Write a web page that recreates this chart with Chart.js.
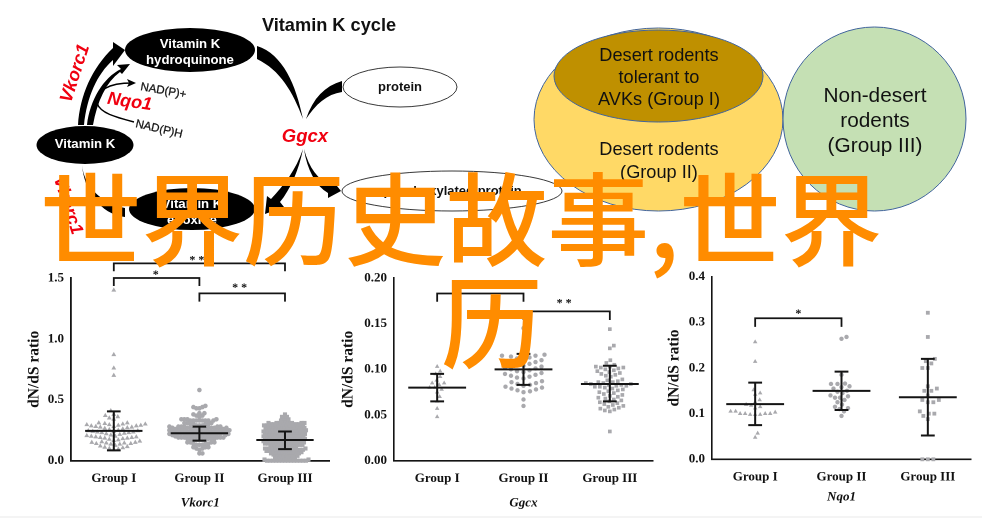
<!DOCTYPE html>
<html><head><meta charset="utf-8">
<script src="https://cdn.jsdelivr.net/npm/chart.js@4"></script>
<style>
html,body{margin:0;padding:0;background:#fff;width:982px;height:518px;overflow:hidden}
canvas.p{position:absolute;filter:blur(.45px)}
svg{position:absolute;left:0;top:0;filter:blur(.4px)}
.o{position:absolute;color:#ff8c00;font-family:"Noto Sans CJK SC";font-weight:500;font-size:101.5px;line-height:100px;white-space:nowrap}
#strip{position:absolute;left:0;top:516px;width:982px;height:2px;background:#f4f4f4}
</style></head><body>
<svg width="982" height="518" viewBox="0 0 982 518" font-family="Liberation Sans">
<text x="329" y="31" font-size="18.2" font-weight="700" text-anchor="middle" fill="#111">Vitamin K cycle</text>
<g fill="#000">
<path d="M78 125 C80 95 92 68 113 48 L113 42 L125 50 L113 66 L113 60 C97 74 87 97 84 125Z"/>
<path d="M87 125 C90 100 103 78 121 69 L117 65 L130 64 L122 74 L120 72 C106 82 97 102 93 125Z"/>
<path d="M257 46 C283 54 296 85 303 119 C293 92 280 70 257 59Z"/>
<path d="M342 81 L342 92 C327 94 315 105 306 119 C313 98 325 86 342 81Z"/>
<path d="M303 149 C299 170 290 190 280 202 L284 207 L265 214 L267 196 L271 199 C284 185 296 170 303 149Z"/>
<path d="M304 149 C309 168 318 180 331 185 L333 181 L341 191 L328 198 L328 193 C316 186 307 170 304 149Z"/>
<path d="M82 165 C84 185 100 203 125 208 L125 217 C100 214 84 190 82 165Z"/>
</g>
<path d="M97 105 C97 90 107 83 133 83" fill="none" stroke="#000" stroke-width="1.3"/>
<path d="M136 83 L127 79 L129 83 L127 87Z" fill="#000"/>
<path d="M97 103 C100 113 115 117 134 122" fill="none" stroke="#000" stroke-width="1.3"/>
<ellipse cx="190" cy="50" rx="65" ry="22" fill="#000"/>
<ellipse cx="85" cy="145" rx="48.5" ry="19" fill="#000"/>
<ellipse cx="192" cy="209" rx="63" ry="21" fill="#000"/>
<ellipse cx="400" cy="87" rx="57" ry="20" fill="#fff" stroke="#222" stroke-width=".9"/>
<ellipse cx="452" cy="191" rx="110" ry="20" fill="#fff" stroke="#222" stroke-width=".9"/>
<g font-weight="700" font-size="13.2" text-anchor="middle" fill="#fff">
<text x="190" y="48">Vitamin K</text><text x="190" y="64">hydroquinone</text>
<text x="85" y="148">Vitamin K</text>
<text x="192" y="208">Vitamin K</text><text x="192" y="224">epoxide</text>
</g>
<g font-weight="700" font-size="13" text-anchor="middle" fill="#111">
<text x="400" y="91">protein</text>
<text x="452" y="195">γ-carboxylated protein</text>
</g>
<g font-size="11.5" font-weight="400" stroke="#111" stroke-width=".25" fill="#111">
<text transform="translate(140 90) rotate(10)">NAD(P)+</text>
<text transform="translate(135 127) rotate(13)">NAD(P)H</text>
</g>
<g font-weight="700" font-style="italic" fill="#f00010" text-anchor="middle">
<text transform="translate(80 75) rotate(-72)" font-size="18">Vkorc1</text>
<text transform="translate(129 107) rotate(8)" font-size="18">Nqo1</text>
<text x="305" y="142" font-size="18.5">Ggcx</text>
<text transform="translate(63 207) rotate(72)" font-size="18">Vkorc1</text>
</g>
<ellipse cx="658.5" cy="119.5" rx="124.5" ry="91.5" fill="#ffd966" stroke="#41649c" stroke-width="1"/>
<ellipse cx="658.5" cy="76" rx="104.5" ry="46" fill="#bf9000" stroke="#41649c" stroke-width="1"/>
<ellipse cx="874.5" cy="119" rx="91.5" ry="92" fill="#c5e0b4" stroke="#41649c" stroke-width="1"/>
<g font-size="18.2" text-anchor="middle" fill="#111">
<text x="659" y="60.5">Desert rodents</text><text x="659" y="83">tolerant to</text><text x="659" y="105">AVKs (Group I)</text>
<text x="659" y="155">Desert rodents</text><text x="659" y="177.5">(Group II)</text>
</g>
<g font-size="20.8" text-anchor="middle" fill="#111">
<text x="875" y="102">Non-desert</text><text x="875" y="127">rodents</text><text x="875" y="152">(Group III)</text>
</g>
</svg>
<canvas class="p" id="c1" style="left:0;top:240px"></canvas>
<canvas class="p" id="c2" style="left:335px;top:240px"></canvas>
<canvas class="p" id="c3" style="left:658px;top:240px"></canvas>
<div id="strip"></div>
<div class="o" style="left:40px;top:164px">世界历史故事,世界</div>
<div class="o" style="left:441px;top:267px">历</div>
<script>
const groupLabels = ["Group I","Group II","Group III"];

const vkorc1I = [1.40,0.87,0.76,0.70,0.41,0.38,0.37,0.36,0.35,0.34,
0.09,0.095,0.10,0.105,0.11,0.115,0.12,0.125,
0.135,0.135,0.14,0.14,0.145,0.145,0.15,0.15,0.155,0.16,0.165,0.17,0.175,0.18,
0.185,0.185,0.19,0.19,0.195,0.195,0.20,0.20,0.205,0.21,0.215,0.22,0.225,
0.23,0.23,0.235,0.235,0.24,0.24,0.245,0.245,0.25,0.255,0.26,0.265,0.27,
0.275,0.275,0.28,0.28,0.285,0.285,0.29,0.29,0.295,0.295,0.30,0.30,0.305,0.31,0.31];
const vkorc1II = [0.58,0.45,0.44,0.44,0.43,0.43,0.39,0.39,0.38,0.37,0.37,0.36,
0.34,0.34,0.34,0.34,0.33,0.33,0.33,0.33,0.33,0.33,0.33,0.33,
0.31,0.31,0.31,0.30,0.30,0.30,0.30,0.29,0.29,0.29,
0.28,0.28,0.28,0.28,0.28,0.28,0.27,0.27,0.27,0.27,0.27,0.27,0.27,
0.26,0.26,0.26,0.26,0.26,0.26,0.26,0.25,0.25,0.25,0.25,0.25,0.25,0.25,
0.24,0.24,0.24,0.24,0.24,0.24,0.24,0.23,0.23,0.23,0.23,0.23,0.23,0.23,
0.22,0.22,0.22,0.22,0.22,0.22,0.22,0.21,0.21,0.21,0.21,0.21,0.21,0.21,
0.20,0.20,0.20,0.20,0.20,0.20,0.19,0.19,0.19,0.19,0.19,0.19,
0.18,0.18,0.18,0.18,0.18,0.17,0.17,0.17,0.17,0.17,
0.15,0.15,0.15,0.15,0.14,0.14,0.14,0.13,0.13,0.13,
0.11,0.11,0.11,0.10,0.10,0.09,0.06,0.06];
const vkorc1III = [0.38,0.36,0.36,0.35,0.34,0.33,0.33,0.32,
0.31,0.31,0.31,0.31,0.31,0.31,0.31,0.30,0.30,0.30,0.30,0.30,0.30,
0.29,0.29,0.29,0.29,0.29,0.29,0.29,0.28,0.28,0.28,0.28,0.28,0.28,0.28,
0.27,0.27,0.27,0.27,0.27,0.27,0.26,0.26,0.26,0.26,0.26,0.26,0.26,
0.25,0.25,0.25,0.25,0.25,0.25,0.25,0.24,0.24,0.24,0.24,0.24,0.24,0.24,
0.23,0.23,0.23,0.23,0.23,0.23,0.23,0.22,0.22,0.22,0.22,0.22,0.22,0.22,
0.21,0.21,0.21,0.21,0.21,0.21,0.21,0.20,0.20,0.20,0.20,0.20,0.20,0.20,
0.19,0.19,0.19,0.19,0.19,0.19,0.19,0.18,0.18,0.18,0.18,0.18,0.18,0.18,
0.17,0.17,0.17,0.17,0.17,0.17,0.17,0.16,0.16,0.16,0.16,0.16,0.16,0.16,
0.15,0.15,0.15,0.15,0.15,0.15,0.15,0.14,0.14,0.14,0.14,0.14,0.14,0.14,
0.13,0.13,0.13,0.13,0.13,0.13,0.12,0.12,0.12,0.12,0.12,0.12,
0.10,0.10,0.10,0.10,0.10,0.10,0.10,0.09,0.09,0.09,0.09,0.09,0.09,0.09,
0.08,0.08,0.08,0.08,0.08,0.08,0.07,0.07,0.07,0.07,0.07,0.07,
0.06,0.06,0.06,0.06,0.06,0.05,0.05,0.05,0.05,0.05,
0.04,0.04,0.04,0.04,0.03,0.03,0.03,0.03,0.02,0.02,0.02,0.02,0.01,0.01,
0,0,0,0,0,0,0,0,0,0,0,0,0,0];
const vkorc1Mean = [0.245,0.225,0.17];
const vkorc1Low = [0.085,0.165,0.095];
const vkorc1High = [0.405,0.28,0.24];

const ggcxI = [0.103,0.098,0.095,0.092,0.088,0.085,0.085,0.083,0.080,0.080,0.078,0.075,0.070,0.065,0.057,0.048];
const ggcxII = [0.145,0.125,0.118,
0.104,0.105,0.106,0.107,0.108,0.109,0.110,0.111,0.112,0.113,0.114,0.115,0.115,0.116,
0.090,0.091,0.092,0.093,0.094,0.095,0.096,0.097,0.098,0.099,0.100,0.101,0.102,0.103,
0.075,0.076,0.077,0.078,0.079,0.080,0.081,0.082,0.083,0.084,0.085,0.086,0.087,
0.067,0.060];
const ggcxIII = [0.144,0.126,0.123,0.110,0.107,0.105,
0.092,0.093,0.094,0.095,0.096,0.097,0.098,0.099,0.100,0.101,0.102,0.102,0.103,0.103,
0.078,0.079,0.080,0.081,0.081,0.082,0.082,0.083,0.083,0.084,0.084,0.085,0.085,0.086,0.086,0.087,0.088,0.089,
0.066,0.067,0.068,0.069,0.070,0.071,0.072,0.073,0.074,0.075,0.076,0.077,
0.054,0.055,0.056,0.057,0.058,0.059,0.060,0.061,0.062,0.063,0.064,0.065,
0.032];
const ggcxMean = [0.080,0.100,0.084];
const ggcxLow = [0.065,0.083,0.065];
const ggcxHigh = [0.095,0.117,0.104];

const nqo1I = [0.257,0.214,0.152,0.145,0.142,0.130,0.125,0.120,0.118,0.115,0.112,0.105,0.105,0.103,0.100,0.100,0.100,0.098,0.098,0.098,0.100,0.057,0.048];
const nqo1II = [0.268,0.264,0.185,0.166,0.165,0.165,0.160,0.158,0.155,0.150,0.148,0.145,0.140,0.138,0.135,0.135,0.130,0.125,0.120,0.115,0.112,0.110,0.105,0.095];
const nqo1III = [0.321,0.268,0.220,0.215,0.210,0.200,0.200,0.160,0.155,0.150,0.150,0.140,0.130,0.130,0.125,0.125,0.105,0.100,0.100,0.095,0.088,0,0,0];
const nqo1Mean = [0.121,0.150,0.136];
const nqo1Low = [0.075,0.108,0.052];
const nqo1High = [0.168,0.192,0.220];

const vkorc1Brackets = [[1,3,1.62,1.555],[1,2,1.50,1.434],[2,3,1.374,1.306]];
const vkorc1Stars = [[1.97,1.645,"* *"],[1.49,1.525,"*"],[2.47,1.42,"* *"]];
const ggcxBrackets = [[1,2,0.183,0.174],[2,3,0.1635,0.154]];
const ggcxStars = [[2.47,0.172,"* *"]];
const nqo1Brackets = [[1,2,0.309,0.29]];
const nqo1Stars = [[1.5,0.319,"*"]];

const GRAY="#a9a9ad", INK="#141414";
const SHAPES=["triangle","circle","rect"];

// beeswarm layout: lowest value nearest the centre, each next one at the closest free spot
function swarm(values, center, yPx, gapPx, xPx){
  const placed=[], out=[];
  [...values].sort((a,b)=>a-b).forEach((v,i)=>{
    const py=v*yPx, s=i%2?1:-1;
    for(let k=0;k<200;k++){
      const off=(k%2?s:-s)*Math.ceil(k/2)*.5;
      if(!placed.some(p=>Math.hypot(p[0]-off,p[1]-py)<gapPx)){
        placed.push([off,py]); out.push({x:center+off/xPx,y:v}); break;
      }
    }
  });
  return out;
}
const starPlugin={id:"stars",afterDraw(c,_,o){
  const g=c.ctx;g.save();g.fillStyle=INK;g.font="bold 12px 'Liberation Serif'";g.textAlign="center";g.textBaseline="middle";
  o.items.forEach(s=>g.fillText(s[2],c.scales.x.getPixelForValue(s[0]),c.scales.y.getPixelForValue(s[1])));
  g.restore();
}};
function line(data,w){return {type:"scatter",data,showLine:true,borderColor:INK,borderWidth:w,pointRadius:0,clip:false,tension:0,order:0,borderJoinStyle:"miter"};}

function panel(id,cfg){
  const yPx=cfg.plotH/cfg.yMax, xPx=cfg.plotW/(cfg.xMax-cfg.xMin);
  const ds=[];
  cfg.means.forEach((m,i)=>{
    const g=i+1;
    ds.push(line([{x:g-.335,y:m},{x:g+.335,y:m}],cfg.lw));
    ds.push(line([{x:g-.08,y:cfg.low[i]},{x:g+.08,y:cfg.low[i]},{x:g,y:cfg.low[i]},{x:g,y:cfg.high[i]},{x:g-.08,y:cfg.high[i]},{x:g+.08,y:cfg.high[i]}],cfg.lw));
  });
  cfg.brackets.forEach(b=>ds.push(line([{x:b[0],y:b[3]},{x:b[0],y:b[2]},{x:b[1],y:b[2]},{x:b[1],y:b[3]}],1.8)));
  cfg.series.forEach((vals,i)=>{
    ds.push({data:swarm(vals,i+1,yPx,cfg.gap[i],xPx),pointStyle:SHAPES[i],pointRadius:cfg.r[i],pointBackgroundColor:GRAY,pointBorderWidth:0,showLine:false,clip:false,order:5});
  });
  new Chart(document.getElementById(id),{type:"scatter",data:{datasets:ds},plugins:[starPlugin],options:{
    responsive:false,animation:false,devicePixelRatio:2,events:[],
    layout:{padding:{left:0,top:cfg.top,right:cfg.right,bottom:0}},
    plugins:{legend:{display:false},tooltip:{enabled:false},stars:{items:cfg.stars}},
    scales:{
      x:{type:"linear",min:cfg.xMin,max:cfg.xMax,
        afterBuildTicks(a){a.ticks=[1,2,3].map(v=>({value:v}));},
        afterFit(s){s.height=cfg.bottomH;},
        grid:{display:false,drawTicks:true,tickLength:6,tickColor:INK,tickWidth:1.5},
        border:{color:INK,width:cfg.axisW},
        ticks:{autoSkip:false,maxRotation:0,padding:4,color:"#111",font:{family:"Liberation Serif",weight:"bold",size:13},callback:v=>groupLabels[v-1]},
        title:{display:true,text:cfg.gene,color:"#111",font:{family:"Liberation Serif",weight:"bold",style:"italic",size:13},padding:{top:0,bottom:cfg.xTitleB}}
      },
      y:{min:0,max:cfg.yMax,
        afterFit(s){s.width=cfg.leftW;},
        grid:{display:false,drawTicks:true,tickLength:6,tickColor:INK,tickWidth:1.5},
        border:{color:INK,width:cfg.axisW},
        ticks:{stepSize:cfg.step,padding:1,color:"#111",font:{family:"Liberation Serif",weight:"bold",size:13},callback:v=>v.toFixed(cfg.dec)},
        title:{display:true,text:"dN/dS ratio",color:"#111",font:{family:"Liberation Serif",weight:"bold",size:15.5},padding:{top:cfg.yTitleT,bottom:0}}
      }
    }
  }});
}
function size(id,w,h){const c=document.getElementById(id);c.width=w;c.height=h;c.style.width=w+"px";c.style.height=h+"px";}
size("c1",335,278);size("c2",323,278);size("c3",324,278);
panel("c1",{gene:"Vkorc1",series:[vkorc1I,vkorc1II,vkorc1III],means:vkorc1Mean,low:vkorc1Low,high:vkorc1High,brackets:vkorc1Brackets,stars:vkorc1Stars,
  yMax:1.5,step:.5,dec:1,leftW:71,top:38,right:5.5,bottomH:57.3,xMin:.5,xMax:3.52,plotH:182.7,plotW:258.5,lw:2,axisW:1.8,xTitleB:7,yTitleT:25,
  gap:[4.5,3,2.7],r:[2.8,2.3,2.9]});
panel("c2",{gene:"Ggcx",series:[ggcxI,ggcxII,ggcxIII],means:ggcxMean,low:ggcxLow,high:ggcxHigh,brackets:ggcxBrackets,stars:ggcxStars,
  yMax:.2,step:.05,dec:2,leftW:59,top:38,right:5,bottomH:57.3,xMin:.5,xMax:3.5,plotH:182.7,plotW:259,lw:2,axisW:1.6,xTitleB:7,yTitleT:4,
  gap:[5,6.2,4.8],r:[2.6,2.2,2.6]});
panel("c3",{gene:"Nqo1",series:[nqo1I,nqo1II,nqo1III],means:nqo1Mean,low:nqo1Low,high:nqo1High,brackets:nqo1Brackets,stars:nqo1Stars,
  yMax:.4,step:.1,dec:1,leftW:54,top:36.7,right:11,bottomH:58.7,xMin:.5,xMax:3.5,plotH:182.6,plotW:258.5,lw:2,axisW:1.6,xTitleB:13,yTitleT:7,
  gap:[4.8,5,5.5],r:[2.6,2.2,2.7]});
</script>
</body></html>
